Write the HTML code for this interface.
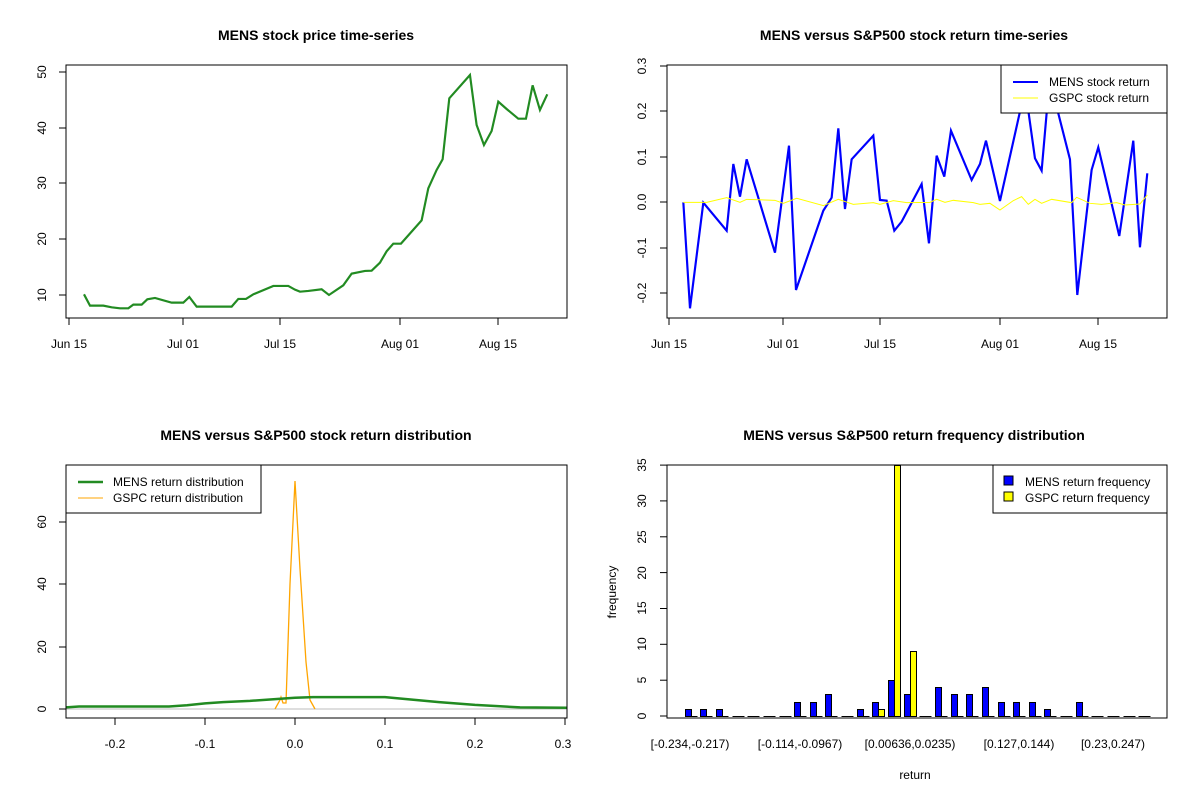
<!DOCTYPE html>
<html><head><meta charset="utf-8"><style>
html,body{margin:0;padding:0;background:#fff}
svg{display:block;font-family:"Liberation Sans",Arial,sans-serif}
.t{font-size:14px;font-weight:bold;text-anchor:middle}
.l{font-size:12px;text-anchor:middle}
.lg{font-size:12px}
</style></head><body>
<svg width="1200" height="800" viewBox="0 0 1200 800" xmlns="http://www.w3.org/2000/svg">
<rect width="1200" height="800" fill="#fff"/>
<text class="t" x="316" y="40">MENS stock price time-series</text>
<text class="t" x="914" y="40">MENS versus S&amp;P500 stock return time-series</text>
<text class="t" x="316" y="440">MENS versus S&amp;P500 stock return distribution</text>
<text class="t" x="914" y="440">MENS versus S&amp;P500 return frequency distribution</text>

<rect x="66" y="65" width="501" height="253" fill="none" stroke="#000"/>
<g stroke="#000">
<line x1="66" y1="295" x2="59" y2="295"/><line x1="66" y1="239" x2="59" y2="239"/><line x1="66" y1="183" x2="59" y2="183"/><line x1="66" y1="128" x2="59" y2="128"/><line x1="66" y1="72" x2="59" y2="72"/>
<line x1="69" y1="318" x2="69" y2="325"/><line x1="183" y1="318" x2="183" y2="325"/><line x1="280" y1="318" x2="280" y2="325"/><line x1="400" y1="318" x2="400" y2="325"/><line x1="498" y1="318" x2="498" y2="325"/>
</g>
<g class="l">
<text transform="translate(46,295) rotate(-90)">10</text>
<text transform="translate(46,239) rotate(-90)">20</text>
<text transform="translate(46,183) rotate(-90)">30</text>
<text transform="translate(46,128) rotate(-90)">40</text>
<text transform="translate(46,72) rotate(-90)">50</text>
<text x="69" y="348">Jun 15</text><text x="183" y="348">Jul 01</text><text x="280" y="348">Jul 15</text><text x="400" y="348">Aug 01</text><text x="498" y="348">Aug 15</text>
</g>
<g transform="translate(60,60) scale(0.3333)">
<polyline fill="none" stroke="#228B22" stroke-width="6.5" points="72,703 90,737 130,737 155,742 180,745 205,745 220,734 245,734 262,718 285,714 335,728 370,728 388,711 410,740 515,740 535,717 558,717 580,703 640,678 685,678 705,689 720,695 745,693 785,688 807,705 850,676 875,641 915,633 935,632 960,608 980,574 1000,551 1023,551 1085,481 1105,385 1130,330 1148,298 1168,115 1230,45 1250,195 1272,255 1295,213 1315,125 1340,147 1375,176 1398,176 1418,76 1440,150 1462,103"/>
</g>

<g stroke="#000">
<line x1="667" y1="293" x2="660" y2="293"/><line x1="667" y1="248" x2="660" y2="248"/><line x1="667" y1="202" x2="660" y2="202"/><line x1="667" y1="157" x2="660" y2="157"/><line x1="667" y1="111" x2="660" y2="111"/><line x1="667" y1="66" x2="660" y2="66"/>
<line x1="669" y1="318" x2="669" y2="325"/><line x1="783" y1="318" x2="783" y2="325"/><line x1="880" y1="318" x2="880" y2="325"/><line x1="1000" y1="318" x2="1000" y2="325"/><line x1="1098" y1="318" x2="1098" y2="325"/>
</g>
<g class="l">
<text transform="translate(646,293) rotate(-90)">-0.2</text>
<text transform="translate(646,248) rotate(-90)">-0.1</text>
<text transform="translate(646,202) rotate(-90)">0.0</text>
<text transform="translate(646,157) rotate(-90)">0.1</text>
<text transform="translate(646,111) rotate(-90)">0.2</text>
<text transform="translate(646,66) rotate(-90)">0.3</text>
<text x="669" y="348">Jun 15</text><text x="783" y="348">Jul 01</text><text x="880" y="348">Jul 15</text><text x="1000" y="348">Aug 01</text><text x="1098" y="348">Aug 15</text>
</g>
<g transform="translate(660,60) scale(0.3333)">
<polyline fill="none" stroke="#0000FF" stroke-width="6.5" points="70,427 90,745 130,428 200,512 220,312 240,410 260,298 345,578 387,257 408,690 490,452 515,413 535,205 555,447 575,298 640,227 660,420 680,422 703,512 725,485 785,372 807,550 830,287 853,350 873,212 935,360 960,312 978,242 1020,423 1080,155 1095,80 1125,295 1145,332 1160,160 1175,80 1195,160 1230,298 1252,705 1295,330 1315,262 1378,528 1420,242 1440,562 1462,340"/>
<polyline fill="none" stroke="#FFFF00" stroke-width="3" points="70,427 140,427 200,413 240,427 260,418 345,421 370,430 410,415 490,437 535,418 580,433 640,428 660,433 700,422 740,428 810,427 830,418 855,427 880,421 940,428 960,433 990,430 1020,450 1060,422 1085,410 1105,433 1125,418 1145,430 1175,418 1235,428 1250,412 1290,430 1325,433 1370,428 1395,435 1440,432 1462,405"/>
</g>
<rect x="667" y="65" width="500" height="253" fill="none" stroke="#000"/>
<rect x="1001" y="65" width="166" height="48" fill="#fff" stroke="#000"/>
<line x1="1013" y1="82" x2="1038" y2="82" stroke="#0000FF" stroke-width="2"/>
<line x1="1013" y1="98" x2="1038" y2="98" stroke="#FFFF00" stroke-width="1"/>
<text class="lg" x="1049" y="86">MENS stock return</text>
<text class="lg" x="1049" y="102">GSPC stock return</text>

<line x1="66" y1="709" x2="567" y2="709" stroke="#bebebe"/>
<polyline fill="none" stroke="#FFA500" stroke-width="1.3" points="275,709 280,700 281,697 283,703 286,703 290,584 295,481 300,569 306,662 310,700 315,709"/>
<polyline fill="none" stroke="#228B22" stroke-width="2.5" points="66,707.4 79,706.5 169,706.5 187,705.3 205,703.4 223,702.1 250,700.9 277,699 295,697.8 313,697.1 385,697.1 412,699.6 439,702.1 475,704.9 520,707.4 567,707.7"/>
<rect x="66" y="465" width="501" height="253" fill="none" stroke="#000"/>
<g stroke="#000">
<line x1="66" y1="709" x2="59" y2="709"/><line x1="66" y1="647" x2="59" y2="647"/><line x1="66" y1="584" x2="59" y2="584"/><line x1="66" y1="522" x2="59" y2="522"/>
<line x1="115" y1="718" x2="115" y2="725"/><line x1="205" y1="718" x2="205" y2="725"/><line x1="295" y1="718" x2="295" y2="725"/><line x1="385" y1="718" x2="385" y2="725"/><line x1="475" y1="718" x2="475" y2="725"/><line x1="565" y1="718" x2="565" y2="725"/>
</g>
<g class="l">
<text transform="translate(46,709) rotate(-90)">0</text>
<text transform="translate(46,647) rotate(-90)">20</text>
<text transform="translate(46,584) rotate(-90)">40</text>
<text transform="translate(46,522) rotate(-90)">60</text>
<text x="115" y="748">-0.2</text><text x="205" y="748">-0.1</text><text x="295" y="748">0.0</text><text x="385" y="748">0.1</text><text x="475" y="748">0.2</text><text x="563" y="748">0.3</text>
</g>
<rect x="66" y="465" width="195" height="48" fill="#fff" stroke="#000"/>
<line x1="78" y1="482" x2="103" y2="482" stroke="#228B22" stroke-width="2.5"/>
<line x1="78" y1="498" x2="103" y2="498" stroke="#FFA500" stroke-width="1"/>
<text class="lg" x="113" y="486">MENS return distribution</text>
<text class="lg" x="113" y="502">GSPC return distribution</text>

<g id="bars" stroke="#000" stroke-width="1"></g>
<rect x="667" y="465" width="500" height="253" fill="none" stroke="#000"/>
<g stroke="#000">
<line x1="667" y1="716" x2="660" y2="716"/><line x1="667" y1="680.2" x2="660" y2="680.2"/><line x1="667" y1="644.3" x2="660" y2="644.3"/><line x1="667" y1="608.5" x2="660" y2="608.5"/><line x1="667" y1="572.6" x2="660" y2="572.6"/><line x1="667" y1="536.8" x2="660" y2="536.8"/><line x1="667" y1="500.9" x2="660" y2="500.9"/><line x1="667" y1="465.1" x2="660" y2="465.1"/>
</g>
<g class="l">
<text transform="translate(646,716) rotate(-90)">0</text>
<text transform="translate(646,680) rotate(-90)">5</text>
<text transform="translate(646,644) rotate(-90)">10</text>
<text transform="translate(646,608) rotate(-90)">15</text>
<text transform="translate(646,573) rotate(-90)">20</text>
<text transform="translate(646,537) rotate(-90)">25</text>
<text transform="translate(646,501) rotate(-90)">30</text>
<text transform="translate(646,465) rotate(-90)">35</text>
<text x="690" y="748">[-0.234,-0.217)</text>
<text x="800" y="748">[-0.114,-0.0967)</text>
<text x="910" y="748">[0.00636,0.0235)</text>
<text x="1019" y="748">[0.127,0.144)</text>
<text x="1113" y="748">[0.23,0.247)</text>
<text x="915" y="779">return</text>
<text transform="translate(616,592) rotate(-90)">frequency</text>
</g>
<rect x="993" y="465" width="174" height="48" fill="#fff" stroke="#000"/>
<rect x="1004" y="476" width="9" height="9" fill="#0000FF" stroke="#000"/>
<rect x="1004" y="492" width="9" height="9" fill="#FFFF00" stroke="#000"/>
<text class="lg" x="1025" y="486">MENS return frequency</text>
<text class="lg" x="1025" y="502">GSPC return frequency</text>
</svg>
<script>
(function(){
var b=[1,1,1,0,0,0,0,2,2,3,0,1,2,5,3,0,4,3,3,4,2,2,2,1,0,2,0,0,0,0];
var y=[0,0,0,0,0,0,0,0,0,0,0,0,1,35,9,0,0,0,0,0,0,0,0,0,0,0,0,0,0,0];
var g=document.getElementById('bars'),s='';
for(var i=0;i<30;i++){var x0=Math.round(684.7+i*15.64)+0.5;
 [[b[i],'#0000FF',0],[y[i],'#FFFF00',6]].forEach(function(p){
  var h=p[0]*7.17,x=x0+p[2];
  if(h>0){var top=Math.max(465,Math.round(716-h))+0.5;s+='<rect x="'+x+'" y="'+top+'" width="6" height="'+(716.5-top)+'" fill="'+p[1]+'"/>';}
  else s+='<line x1="'+x+'" y1="716.5" x2="'+(x+6)+'" y2="716.5"/>';
 });}
g.innerHTML=s;
})();
</script>
</body></html>
